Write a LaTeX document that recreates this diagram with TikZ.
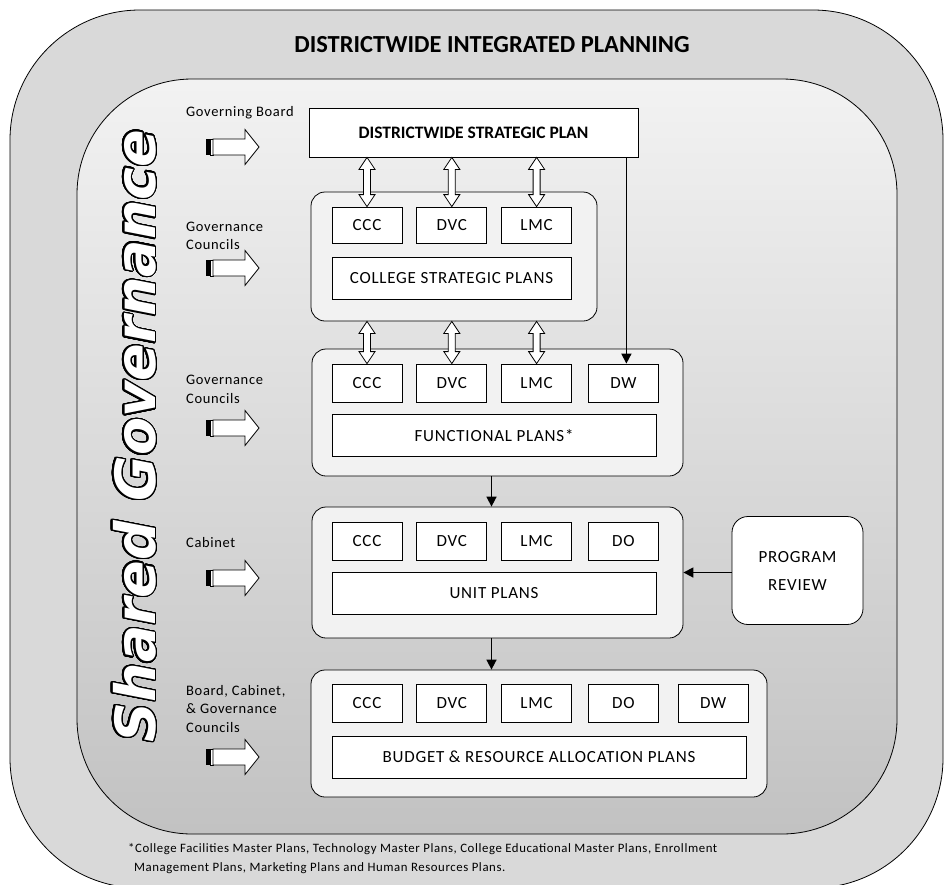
\documentclass[tikz,border=0pt]{standalone}
\usepackage{fontspec}
\setmainfont{Carlito}[LetterSpace=4.5,BoldFeatures={LetterSpace=0}]
\newfontfamily\sharedfont{DejaVu Sans}
\usepackage{xcolor}
\usepackage{tikz}
\usepackage{contour}
\usetikzlibrary{positioning,arrows.meta,calc}
\contourlength{1.4pt}
\contournumber{40}

% hollow two-headed arrow between two points on one vertical
\newcommand\dblarrow[2]{%
  \draw[fill=white,line width=0.8pt] let \p1=(#1), \p2=(#2) in
    (\x1,\y1) -- (\x1+8pt,\y1-12pt) -- (\x1+3.5pt,\y1-12pt) -- (\x1+3.5pt,\y2+12pt)
    -- (\x1+8pt,\y2+12pt) -- (\x2,\y2) -- (\x1-8pt,\y2+12pt) -- (\x1-3.5pt,\y2+12pt)
    -- (\x1-3.5pt,\y1-12pt) -- (\x1-8pt,\y1-12pt) -- cycle;}

% block arrow with striped tail, at height #1
\newcommand\govarrow[1]{%
  \fill (206,#1-8) rectangle (210,#1+8);
  \draw[fill=white,line width=0.8pt] (210.5,#1-8) rectangle (213,#1+8);
  \draw[fill=white,line width=0.8pt] (213,#1-8) -- (245,#1-8) -- (245,#1-17.5) -- (259,#1)
    -- (245,#1+17.5) -- (245,#1+8) -- (213,#1+8) -- cycle;}

\begin{document}
\begin{tikzpicture}[x=1pt,y=-1pt,
cell/.style={rectangle,draw,fill=white,line width=0.8pt,inner sep=0pt,
minimum width=70pt,minimum height=38pt,font=\fontsize{17}{20}\selectfont},
planbar/.style={rectangle,draw,fill=white,line width=0.8pt,inner sep=0pt,
minimum height=42pt,font=\fontsize{17}{20}\selectfont},
groupbox/.style={rectangle,draw,fill=gray!10,line width=0.8pt,inner sep=0pt,
rounded corners=14pt},
lbl/.style={anchor=west,align=left,inner sep=0pt,font=\fontsize{14.5}{18.5}\selectfont},
conn/.style={line width=1.6pt,-{Triangle[length=10pt,width=10pt]}}]
\useasboundingbox (0,0) rectangle (944,884);

% background bands
\draw[fill=gray!30,line width=0.8pt,rounded corners=130pt] (10,10) rectangle (943,888);
\draw[top color=gray!10,bottom color=gray!48,line width=0.8pt,rounded corners=115pt]
  (77,79) rectangle (897,834);
\node[font=\bfseries\fontsize{24.5}{28}\selectfont] (title) at (492,45)
  {DISTRICTWIDE INTEGRATED PLANNING};
\node[rotate=90,anchor=base,text=white,inner sep=0pt,
  font=\sharedfont\bfseries\itshape\fontsize{55.5}{60}\selectfont] (shared) at (155,436)
  {\contour{black}{Shared Governance}};

% who approves each level
\node[lbl] (lblboard) at (186,113) {Governing Board};
\node[lbl] (lblcouncilsA) at (186,236) {Governance\\Councils};
\node[lbl] (lblcouncilsB) at (186,389.5) {Governance\\Councils};
\node[lbl] (lblcabinet) at (186,543) {Cabinet};
\node[lbl] (lblall) at (186,709) {Board, Cabinet,\\\& Governance\\Councils};
\govarrow{147}
\govarrow{268}
\govarrow{428}
\govarrow{578}
\govarrow{757}

% districtwide plan
\node[rectangle,draw,fill=white,line width=0.8pt,minimum width=329pt,minimum height=49pt,
  font=\bfseries\fontsize{17.5}{20}\selectfont] (dsp) at (473.5,132.5)
  {DISTRICTWIDE STRATEGIC PLAN};

% college strategic plans
\node[groupbox,minimum width=286pt,minimum height=129pt] (colgrp) at (454,256.5) {};
\node[cell,minimum height=36pt] (cccA) at (367,225) {CCC};
\node[cell,minimum height=36pt,right=14pt of cccA] (dvcA) {DVC};
\node[cell,minimum height=36pt,right=14pt of dvcA] (lmcA) {LMC};
\node[planbar,minimum width=239pt] (colplan) at (451.5,278) {COLLEGE STRATEGIC PLANS};

% functional plans
\node[groupbox,minimum width=371pt,minimum height=127pt] (funcgrp) at (497.5,412.5) {};
\node[cell] (cccB) at (367,383) {CCC};
\node[cell,right=14pt of cccB] (dvcB) {DVC};
\node[cell,right=14pt of dvcB] (lmcB) {LMC};
\node[cell,right=16pt of lmcB] (dwB) {DW};
\node[planbar,minimum width=324pt] (funcplan) at (494,435.5) {FUNCTIONAL PLANS*};

% unit plans
\node[groupbox,minimum width=371pt,minimum height=131pt] (unitgrp) at (497.5,572.5) {};
\node[cell] (cccC) at (367,541) {CCC};
\node[cell,right=14pt of cccC] (dvcC) {DVC};
\node[cell,right=14pt of dvcC] (lmcC) {LMC};
\node[cell,right=16pt of lmcC] (doC) {DO};
\node[planbar,minimum width=324pt] (unitplan) at (494,593.5) {UNIT PLANS};
\node[rectangle,draw,fill=white,line width=0.8pt,rounded corners=16pt,align=center,
  minimum width=131pt,minimum height=108pt,font=\fontsize{17}{28}\selectfont]
  (review) at (797.5,570.5) {PROGRAM\\REVIEW};

% budget plans
\node[groupbox,minimum width=456pt,minimum height=127pt] (budgrp) at (539,733.5) {};
\node[cell] (cccD) at (367,703) {CCC};
\node[cell,right=14pt of cccD] (dvcD) {DVC};
\node[cell,right=14pt of dvcD] (lmcD) {LMC};
\node[cell,right=16pt of lmcD] (doD) {DO};
\node[cell,right=19pt of doD] (dwD) {DW};
\node[planbar,minimum width=414pt] (budplan) at (539,757) {BUDGET \& RESOURCE ALLOCATION PLANS};

% links
\dblarrow{dsp.south -| cccA.north}{cccA.north}
\dblarrow{dsp.south -| dvcA.north}{dvcA.north}
\dblarrow{dsp.south -| lmcA.north}{lmcA.north}
\dblarrow{colgrp.south -| cccB.north}{cccB.north}
\dblarrow{colgrp.south -| dvcB.north}{dvcB.north}
\dblarrow{colgrp.south -| lmcB.north}{lmcB.north}
\draw[conn] ([xshift=3pt]dsp.south -| dwB.north) -- ([xshift=3pt]dwB.north);
\draw[conn] ([xshift=-6pt]funcgrp.south) -- ([xshift=-6pt]unitgrp.north);
\draw[conn] ([xshift=-6pt]unitgrp.south) -- ([xshift=-6pt]unitgrp.south |- budgrp.north);
\draw[conn] (review.west |- unitgrp.east) -- (unitgrp.east);

\node[anchor=base west,align=left,inner sep=0pt,font=\fontsize{12.8}{19}\selectfont]
  (note) at (128,871) {*College Facilities Master Plans, Technology Master Plans, College Educational Master Plans, Enrollment\\
  \hspace{6pt}Management Plans, Marketing Plans and Human Resources Plans.};
\end{tikzpicture}
\end{document}
